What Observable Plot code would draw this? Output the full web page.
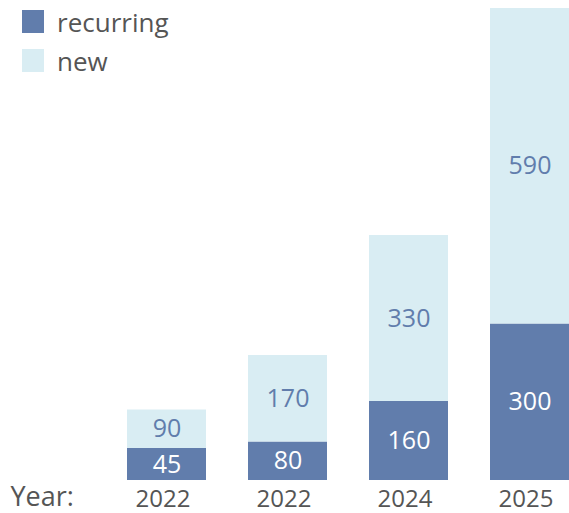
<!DOCTYPE html>
<html>
<head>
<meta charset="utf-8">
<script src="https://cdn.jsdelivr.net/npm/d3@7"></script>
<script src="https://cdn.jsdelivr.net/npm/@observablehq/plot@0.6"></script>
<style>
  html, body { margin: 0; padding: 0; background: #fff; }
  #wrap { position: relative; width: 569px; height: 513px; font-family: "Open Sans", sans-serif; }
  #legend { position: absolute; left: 22px; top: 0; color: #555; font-size: 26px; }
  .item { position: absolute; left: 0; display: flex; align-items: center; white-space: nowrap; height: 23px; }
  .sw { width: 22px; height: 23px; margin-right: 13px; flex: none; }
</style>
</head>
<body>
<div id="wrap"><div id="legend"></div></div>
<script>
// Data
const years = ["2022", "2022", "2024", "2025"];
const series = ["recurring", "new"];
const colors = ["#617dac", "#d9edf3"];
// bar heights
const recurring = [64, 77, 158, 313];
const newValues = [77, 173, 332, 631];
// printed value labels
const recurringLabels = ["45", "80", "160", "300"];
const newLabels = ["90", "170", "330", "590"];

const idx = years.map((_, i) => i);
const rows = [];
idx.forEach(i => {
  rows.push({i, s: "recurring", y1: 0, y2: recurring[i], label: recurringLabels[i]});
  rows.push({i, s: "new", y1: recurring[i], y2: recurring[i] + newValues[i], label: newLabels[i]});
});
const yMax = d3.max(idx, i => recurring[i] + newValues[i]);

const chart = Plot.plot({
  width: 569,
  height: 513,
  marginTop: 8,
  marginBottom: 33,
  marginLeft: 126,
  marginRight: 0,
  style: {fontFamily: "'Open Sans', sans-serif", background: "transparent"},
  x: {domain: idx, paddingInner: 0.35, paddingOuter: 0},
  y: {domain: [0, yMax], axis: null},
  color: {domain: series, range: colors},
  marks: [
    Plot.barY(rows, {x: "i", y1: "y1", y2: "y2", fill: "s"}),
    Plot.text(rows, {
      x: "i", y: d => (d.y1 + d.y2) / 2, text: "label",
      fill: d => d.s === "recurring" ? "#ffffff" : "#617dac",
      fontSize: 25, lineAnchor: "middle"
    }),
    Plot.axisX({
      tickSize: 0, tickPadding: 9, fontSize: 24, color: "#555", dx: -4,
      tickFormat: i => years[i], label: null
    }),
    Plot.text(["Year:"], {
      frameAnchor: "bottom-left", dx: -116, dy: 25, text: d => d,
      textAnchor: "start", lineAnchor: "bottom", fontSize: 27, fill: "#555"
    })
  ]
});
document.getElementById("wrap").prepend(chart);

const legend = document.getElementById("legend");
series.forEach((s, k) => {
  const it = document.createElement("div");
  it.className = "item";
  it.style.top = (10 + k * 39) + "px";
  it.innerHTML = `<span class="sw" style="background:${colors[k]}"></span><span>${s}</span>`;
  legend.appendChild(it);
});
</script>
</body>
</html>
